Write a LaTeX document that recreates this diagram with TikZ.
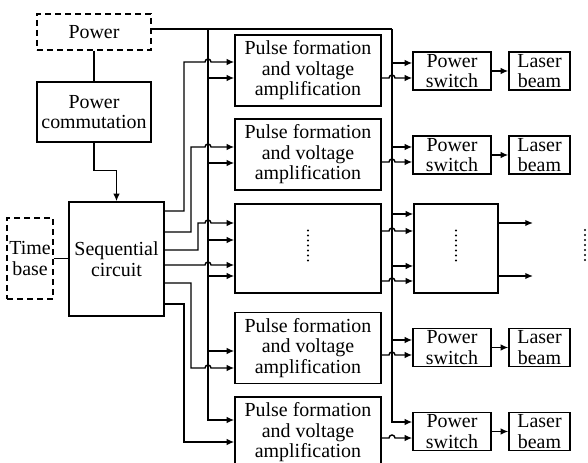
\documentclass[tikz,border=0pt]{standalone}
\usepackage{fontspec}
\setmainfont{Liberation Serif}
\usetikzlibrary{arrows.meta, calc}
\tikzset{
    box/.style={draw=black, line width=0.7pt, inner sep=1pt, align=center,
      font=\rmfamily\fontsize{10}{10.3}\selectfont},
    dash box/.style={box, dash pattern=on 3bp off 2bp},
    wire/.style={line width=0.7pt, draw=black},
    fun line/.style={wire, -{Latex[length=3.8bp, width=3.2bp]}},
    dot line/.style={line width=1.1pt, line cap=round,
      dash pattern=on 0pt off 2.5bp}
}

\begin{document}
\begin{tikzpicture}[x=0.5bp, y=-0.5bp]
  \useasboundingbox (0,0) rectangle (588,463);
  \clip (0,0) rectangle (588,463);

  % left column
  \node[dash box, minimum width=57bp, minimum height=18bp] (power) at (94,32) {Power};
  \node[box, minimum width=57bp, minimum height=30bp] (comm) at (94,112)
  {Power\\commutation};
  \node[box, minimum width=47.5bp, minimum height=57bp] (seq) at (116.5,259)
  {Sequential\\circuit};
  \node[dash box, minimum width=23bp, minimum height=40.5bp] (time) at (30,258.5)
  {Time\\base};

  % pulse boxes
  \node[box, minimum width=73bp, minimum height=35.5bp] (pulse1) at (308,70.5)
  {Pulse formation\\and voltage\\amplification};
  \node[box, minimum width=73bp, minimum height=35.5bp] (pulse2) at (308,154.5)
  {Pulse formation\\and voltage\\amplification};
  \node[box, minimum width=73bp, minimum height=44.5bp] (mid) at (308,248.5) {};
  \node[box, minimum width=73bp, minimum height=35.5bp] (pulse4) at (308,348)
  {Pulse formation\\and voltage\\amplification};
  \node[box, minimum width=73bp, minimum height=35.5bp] (pulse5) at (308,432.5)
  {Pulse formation\\and voltage\\amplification};

  % switches and lasers
  \node[box, minimum width=39bp, minimum height=19bp] (ps1) at (452,71) {Power\\switch};
  \node[box, minimum width=30.5bp, minimum height=19bp] (laser1) at (539.5,71) {Laser\\beam};
  \node[box, minimum width=39bp, minimum height=19bp] (ps2) at (452,155) {Power\\switch};
  \node[box, minimum width=30.5bp, minimum height=19bp] (laser2) at (539.5,155) {Laser\\beam};
  \node[box, minimum width=42bp, minimum height=44.5bp] (midR) at (456,248.5) {};
  \node[box, minimum width=39bp, minimum height=19bp] (ps4) at (452,347.5) {Power\\switch};
  \node[box, minimum width=30.5bp, minimum height=19bp] (laser4) at (539.5,347.5) {Laser\\beam};
  \node[box, minimum width=39bp, minimum height=19bp] (ps5) at (452,431.5) {Power\\switch};
  \node[box, minimum width=30.5bp, minimum height=19bp] (laser5) at (539.5,431.5) {Laser\\beam};

  % power feed
  \draw[wire] (power) -- (comm);
  \draw[fun line] (comm.south) -- ++(0,28) -| (seq.north);
  \draw[wire] (time.east) -- (time.east -| seq.west);

  % buses
  \coordinate (lbus) at (208,29);
  \coordinate (rbus) at (392,29);
  \draw[wire] (power.east |- lbus) -- (rbus);
  \draw[fun line] (lbus) |- (pulse5.west |- 0,420);
  \draw[fun line] (rbus) |- (ps5.west |- 0,422);
  \draw[fun line] (lbus |- 0,78) -- (pulse1.west |- 0,78);
  \draw[fun line] (lbus |- 0,163) -- (pulse2.west |- 0,163);
  \draw[fun line] (lbus |- 0,240) -- (mid.west |- 0,240);
  \draw[fun line] (lbus |- 0,276) -- (mid.west |- 0,276);
  \draw[fun line] (lbus |- 0,351) -- (pulse4.west |- 0,351);
  \draw[fun line] (rbus |- 0,63) -- (ps1.west |- 0,63);
  \draw[fun line] (rbus |- 0,147) -- (ps2.west |- 0,147);
  \draw[fun line] (rbus |- 0,214) -- (midR.west |- 0,214);
  \draw[fun line] (rbus |- 0,266) -- (midR.west |- 0,266);
  \draw[fun line] (rbus |- 0,340) -- (ps4.west |- 0,340);

  % sequential outputs
  \draw[fun line] (seq.east |- 0,211) -| (184,62) -- (205,62)
  arc[start angle=180, end angle=0, radius=1.5bp] -- (pulse1.west |- 0,62);
  \draw[fun line] (seq.east |- 0,232) -| (191,147) -- (205,147)
  arc[start angle=180, end angle=0, radius=1.5bp] -- (pulse2.west |- 0,147);
  \draw[fun line] (seq.east |- 0,250) -| (198,223) -- (205,223)
  arc[start angle=180, end angle=0, radius=1.5bp] -- (mid.west |- 0,223);
  \draw[fun line] (seq.east |- 0,265) -- (205,265)
  arc[start angle=180, end angle=0, radius=1.5bp] -- (mid.west |- 0,265);
  \draw[fun line] (seq.east |- 0,283) -| (191,368) -- (205,368)
  arc[start angle=180, end angle=0, radius=1.5bp] -- (pulse4.west |- 0,368);
  \draw[fun line] (seq.east |- 0,304) -| (184,442) -- (pulse5.west |- 0,442);

  % pulse outputs
  \draw[fun line] (pulse1.east |- 0,78) -- (389,78)
  arc[start angle=180, end angle=0, radius=1.5bp] -- (ps1.west |- 0,78);
  \draw[fun line] (pulse2.east |- 0,162) -- (389,162)
  arc[start angle=180, end angle=0, radius=1.5bp] -- (ps2.west |- 0,162);
  \draw[fun line] (mid.east |- 0,231) -- (389,231)
  arc[start angle=180, end angle=0, radius=1.5bp] -- (midR.west |- 0,231);
  \draw[fun line] (mid.east |- 0,281) -- (389,281)
  arc[start angle=180, end angle=0, radius=1.5bp] -- (midR.west |- 0,281);
  \draw[fun line] (pulse4.east |- 0,355) -- (389,355)
  arc[start angle=180, end angle=0, radius=1.5bp] -- (ps4.west |- 0,355);
  \draw[fun line] (pulse5.east |- 0,438) -- (389,438)
  arc[start angle=180, end angle=0, radius=1.5bp] -- (ps5.west |- 0,438);

  % lasers
  \draw[fun line] (ps1) -- (laser1);
  \draw[fun line] (ps2) -- (laser2);
  \draw[fun line] (ps4) -- (laser4);
  \draw[fun line] (ps5) -- (laser5);

  % open outputs
  \coordinate (out1) at (533,223);
  \coordinate (out2) at (533,276);
  \draw[fun line] (midR.east |- out1) -- (out1);
  \draw[fun line] (midR.east |- out2) -- (out2);

  % dots
  \draw[dot line] ($(mid)+(0,-18)$) -- ($(mid)+(0,17)$);
  \draw[dot line] ($(midR)+(0,-18)$) -- ($(midR)+(0,17)$);
  \draw[dot line] (585,230) -- (585,265);

\end{tikzpicture}
\end{document}
